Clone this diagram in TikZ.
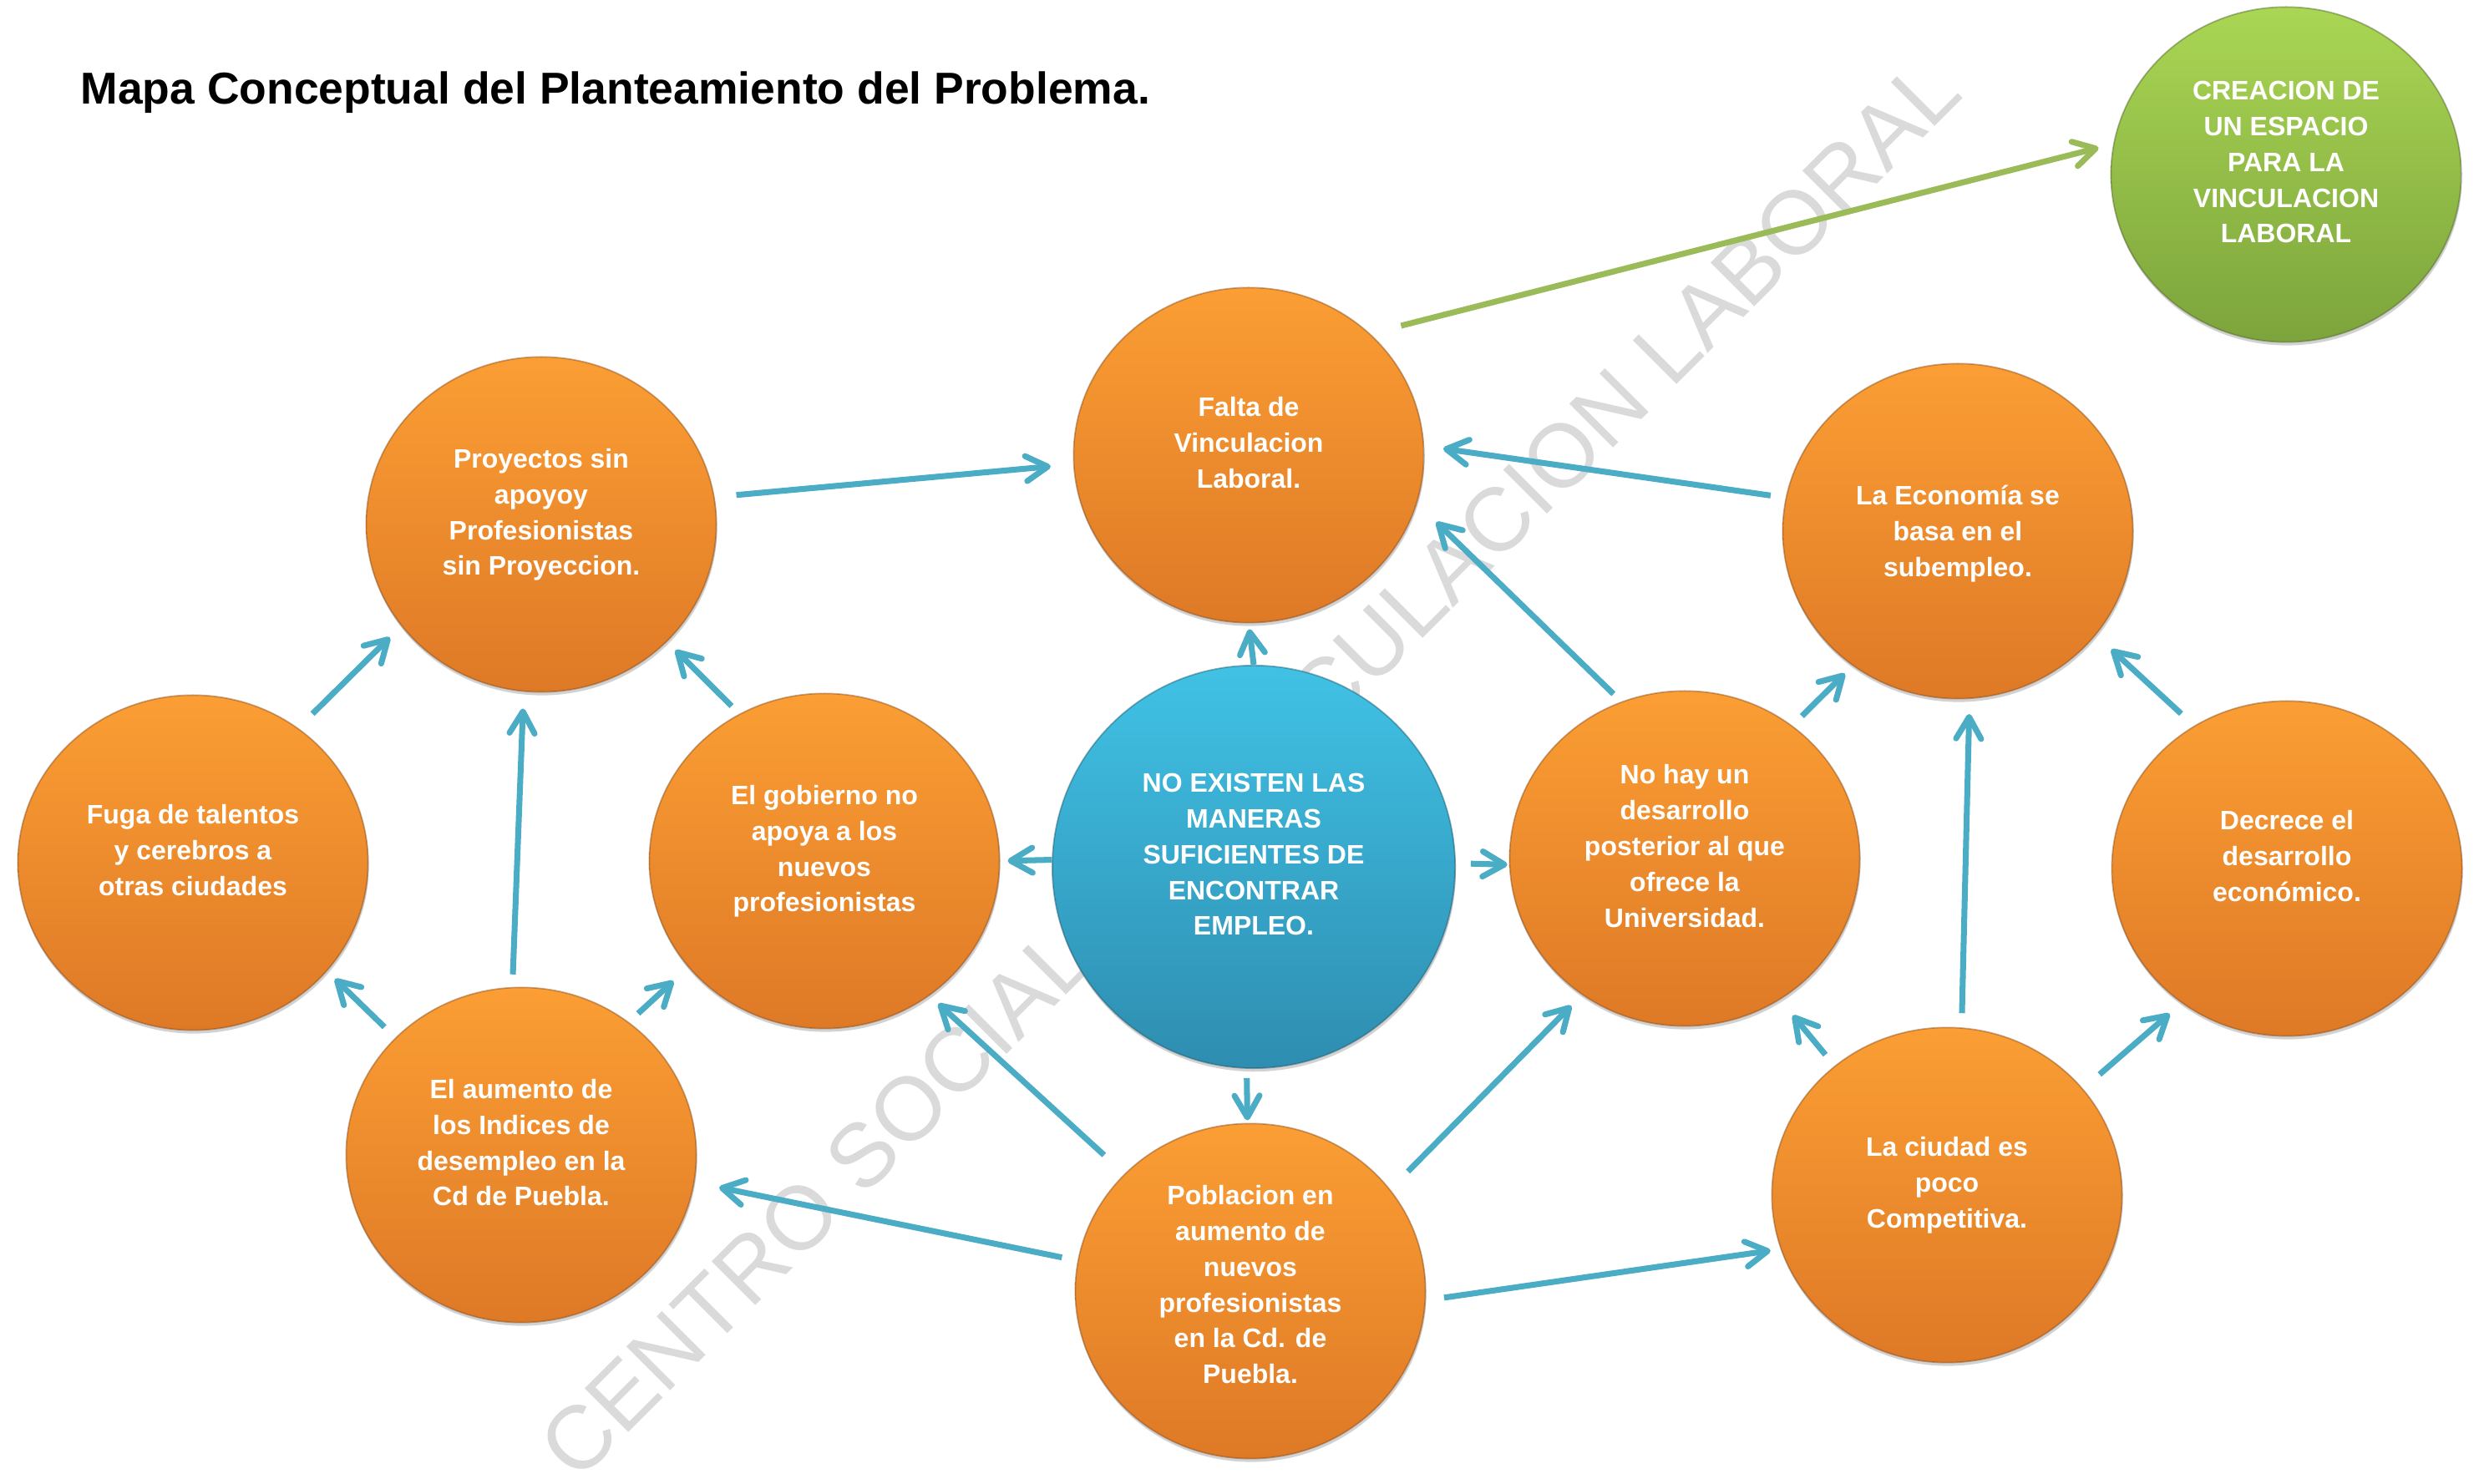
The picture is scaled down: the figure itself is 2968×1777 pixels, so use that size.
\documentclass[tikz,border=0pt]{standalone}
\usepackage{fontspec}
\setmainfont{Liberation Sans}
\usetikzlibrary{shapes.geometric, arrows.meta, shadows}

\definecolor{naranjaA}{RGB}{251,158,52}
\definecolor{naranjaB}{RGB}{222,121,38}
\definecolor{azulA}{RGB}{64,194,229}
\definecolor{azulB}{RGB}{46,141,176}
\definecolor{verdeA}{RGB}{170,214,84}
\definecolor{verdeB}{RGB}{124,164,60}
\definecolor{azulF}{RGB}{75,172,198}
\definecolor{verdeF}{RGB}{155,187,89}
\definecolor{marca}{RGB}{218,218,218}

\begin{document}
\begin{tikzpicture}[x=0.01cm, y=-0.01cm,
    circulo/.style={ellipse, minimum width=4.19cm, minimum height=4.01cm, inner sep=0pt,
        top color=naranjaA, bottom color=naranjaB, draw=naranjaB!60!black, draw opacity=0.45,
        line width=0.5pt, align=center, text=white, text depth=0.3cm,
        font=\bfseries\fontsize{9.1}{12.2}\selectfont,
        drop shadow={shadow xshift=0.01cm, shadow yshift=-0.04cm, opacity=0.35}},
    flecha/.style={draw=azulF, line width=2pt, -{Straight Barb[length=0.26cm, width=0.3cm, round]}}]

    % draw the background
    \fill[white] (0,0) rectangle (2968,1777);
    \useasboundingbox (0,0) rectangle (2968,1777);

    % watermark
    \node[rotate=45, anchor=base, inner sep=0pt, text=marca, font=\fontsize{30.6}{36}\selectfont]
        (sello) at (1522,946) {CENTRO SOCIAL DE VINCULACION LABORAL};

    % title
    \node[anchor=base west, inner sep=0pt, font=\bfseries\fontsize{15.2}{18}\selectfont]
        (titulo) at (96,125) {Mapa Conceptual del Planteamiento del Problema.};

    % the circles
    \node[circulo] (fa) at (1495,545) {Falta de\\Vinculacion\\Laboral.};
    \node[circulo] (pr) at (648,628) {Proyectos sin\\apoyoy\\Profesionistas\\sin Proyeccion.};
    \node[circulo, text depth=0pt] (ec) at (2344,636) {La Economía se\\basa en el\\subempleo.};
    \node[circulo] (fu) at (231,1033) {Fuga de talentos\\y cerebros a\\otras ciudades};
    \node[circulo] (go) at (987,1031) {El gobierno no\\apoya a los\\nuevos\\profesionistas};
    \node[circulo, circle, minimum size=4.82cm, top color=azulA, bottom color=azulB,
        draw=azulB!60!black] (ne) at (1501,1038)
        {NO EXISTEN LAS\\MANERAS\\SUFICIENTES DE\\ENCONTRAR\\EMPLEO.};
    \node[circulo] (nh) at (2017,1028) {No hay un\\desarrollo\\posterior al que\\ofrece la\\Universidad.};
    \node[circulo] (de) at (2738,1040) {Decrece el\\desarrollo\\económico.};
    \node[circulo] (au) at (624,1383) {El aumento de\\los Indices de\\desempleo en la\\Cd de Puebla.};
    \node[circulo, text depth=0.16cm] (po) at (1497,1546)
        {Poblacion en\\aumento de\\nuevos\\profesionistas\\en la Cd. de\\Puebla.};
    \node[circulo] (ci) at (2331,1431) {La ciudad es\\poco\\Competitiva.};
    \node[circulo, top color=verdeA, bottom color=verdeB, draw=verdeB!60!black] (gr) at (2737,209)
        {CREACION DE\\UN ESPACIO\\PARA LA\\VINCULACION\\LABORAL};

    % arrows from the centre
    \draw[flecha, shorten >=0.07cm] (ne.90) -- (fa.-90);
    \draw[flecha, shorten >=0.09cm] (ne.178) -- (go.0);
    \draw[flecha, shorten <=0.18cm, shorten >=0.02cm] (ne.1) -- (nh.182);
    \draw[flecha, shorten <=0.11cm, shorten >=0.03cm] (ne.-92) -- (po.91);

    % arrows into Falta de Vinculacion
    \draw[flecha, shorten <=0.26cm, shorten >=0.27cm] (pr.9) -- (fa.183);
    \draw[flecha, shorten <=0.18cm, shorten >=0.23cm] (ec.169) -- (fa.3);
    \draw[flecha, shorten <=0.13cm, shorten >=0.32cm] (nh.112) -- (fa.-16);
    \draw[flecha, draw=verdeF, shorten <=0.38cm, shorten >=0.18cm] (fa.45) -- (gr.170);

    % left side
    \draw[flecha, shorten <=0.24cm, shorten >=0.19cm] (fu.52) -- (pr.-144);
    \draw[flecha, shorten <=0.13cm, shorten >=0.14cm] (go.120) -- (pr.-43);
    \draw[flecha, shorten <=0.15cm, shorten >=0.20cm] (au.93) -- (pr.-96);
    \draw[flecha, shorten <=0.18cm, shorten >=0.13cm] (au.137) -- (fu.-39);
    \draw[flecha, shorten <=0.15cm, shorten >=0.24cm] (au.51) -- (go.-142);
    \draw[flecha, shorten <=0.19cm, shorten >=0.30cm] (po.170) -- (au.-9);
    \draw[flecha, shorten <=0.33cm, shorten >=0.14cm] (po.137) -- (go.-52);

    % right side
    \draw[flecha, shorten <=0.30cm, shorten >=0.18cm] (po.36) -- (nh.-127);
    \draw[flecha, shorten <=0.22cm, shorten >=0.12cm] (po.-3) -- (ci.-162);
    \draw[flecha, shorten <=0.17cm, shorten >=0.24cm] (ci.131) -- (nh.-56);
    \draw[flecha, shorten <=0.17cm, shorten >=0.18cm] (ci.85) -- (ec.-86);
    \draw[flecha, shorten <=0.26cm, shorten >=0.19cm] (ci.38) -- (de.-128);
    \draw[flecha, shorten <=0.16cm, shorten >=0.13cm] (nh.51) -- (ec.-128);
    \draw[flecha, shorten <=0.21cm, shorten >=0.25cm] (de.123) -- (ec.-37);
\end{tikzpicture}
\end{document}
